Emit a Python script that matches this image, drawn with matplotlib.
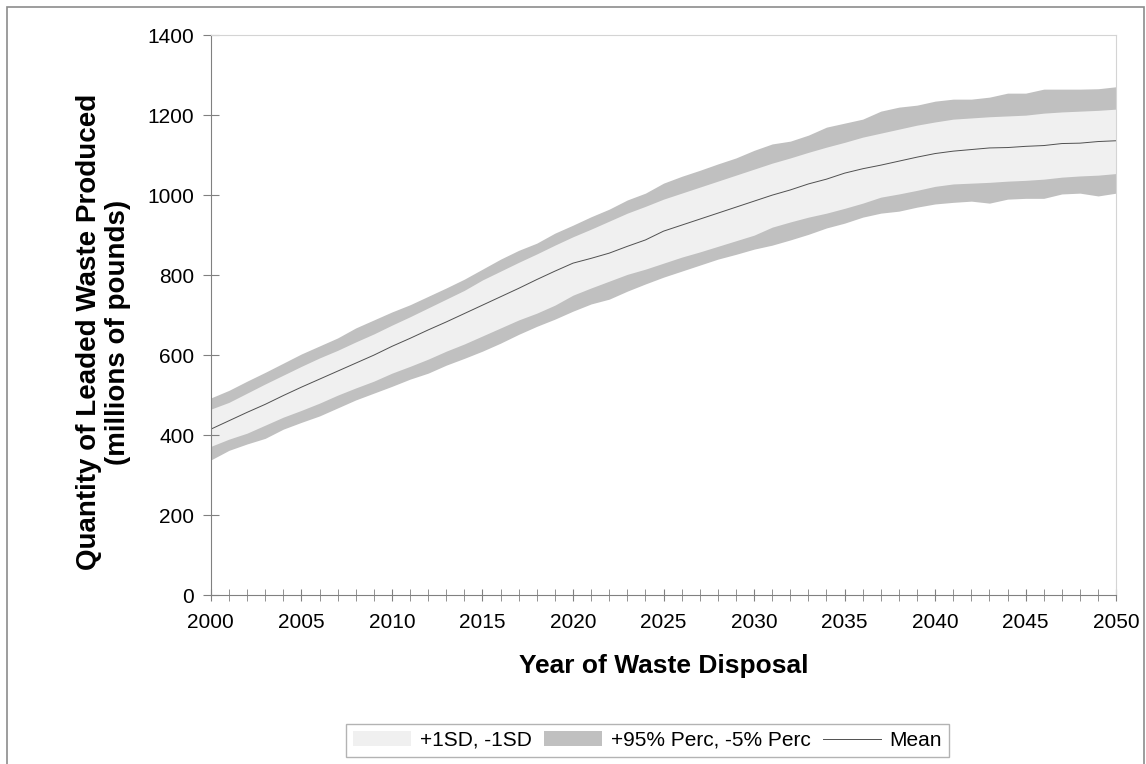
import matplotlib
matplotlib.use("Agg")
import matplotlib.pyplot as plt
from matplotlib.patches import Patch, Rectangle
from matplotlib.lines import Line2D
from matplotlib.ticker import MultipleLocator
import numpy as np

plt.rcParams['font.family'] = ['Liberation Sans', 'DejaVu Sans']

years = list(range(2000, 2051))

upper_95 = [493, 512, 535, 557, 580, 603, 623, 643, 668, 688,
            708, 726, 747, 768, 790, 815, 840, 862, 880, 905,
            925, 946, 965, 988, 1005, 1030, 1047, 1062, 1078, 1093,
            1112, 1128, 1135, 1150, 1170, 1180, 1190, 1210, 1220, 1225,
            1235, 1240, 1240, 1245, 1255, 1255, 1265, 1265, 1265, 1266,
            1271]
plus_1sd = [465, 482, 505, 528, 550, 572, 593, 612, 633, 653,
            675, 696, 718, 740, 762, 788, 810, 832, 853, 875,
            896, 915, 935, 955, 972, 990, 1005, 1020, 1035, 1050,
            1065, 1080, 1093, 1107, 1120, 1132, 1145, 1155, 1165, 1175,
            1183, 1190, 1193, 1196, 1198, 1200, 1205, 1208, 1210, 1212,
            1215]
mean = [415, 436, 457, 477, 499, 520, 540, 560, 580, 600,
        622, 642, 663, 683, 704, 725, 746, 767, 789, 810,
        830, 842, 855, 872, 888, 910, 925, 940, 955, 970,
        985, 1000, 1013, 1028, 1040, 1055, 1066, 1075, 1085, 1095,
        1104, 1110, 1114, 1118, 1119, 1122, 1124, 1129, 1130, 1134,
        1136]
minus_1sd = [372, 390, 405, 425, 445, 462, 480, 500, 518, 535,
             555, 572, 590, 610, 628, 648, 668, 688, 705, 725,
             750, 768, 785, 802, 815, 830, 845, 858, 872, 886,
             900, 920, 933, 945, 955, 967, 980, 995, 1003, 1012,
             1022, 1028, 1030, 1032, 1035, 1037, 1040, 1045, 1048, 1050,
             1054]
lower_5 = [338, 362, 378, 392, 415, 432, 448, 468, 488, 505,
           522, 540, 555, 575, 592, 610, 630, 652, 672, 690,
           710, 728, 740, 760, 778, 795, 810, 825, 840, 852,
           865, 875, 888, 902, 918, 930, 945, 955, 960, 970,
           978, 982, 985, 980, 990, 992, 992, 1003, 1005, 998,
           1005]

light = '#f0f0f0'
dark = '#c0c0c0'

fig = plt.figure(figsize=(11.46, 7.64), dpi=100)
ax = fig.add_axes([0.184, 0.221, 0.79, 0.733])

# outer frame of the figure
fig.patches.append(Rectangle((0.006, -0.05), 0.992, 1.041, transform=fig.transFigure,
                             fill=False, edgecolor='#8c8c8c', linewidth=1.2))

ax.fill_between(years, upper_95, lower_5, color=dark, linewidth=0)
ax.fill_between(years, plus_1sd, minus_1sd, color=light, linewidth=0)
ax.plot(years, mean, color='#505050', linewidth=0.7)

ax.set_xlim(2000, 2050)
ax.set_ylim(0, 1400)
ax.xaxis.set_major_locator(MultipleLocator(5))
ax.xaxis.set_minor_locator(MultipleLocator(1))
ax.yaxis.set_major_locator(MultipleLocator(200))

for side in ['left', 'bottom']:
    ax.spines[side].set_color('#808080')
for side in ['top', 'right']:
    ax.spines[side].set_color('#d4d4d4')

ax.tick_params(axis='x', which='both', direction='inout', length=9, color='#808080',
               labelsize=15, pad=8)
ax.tick_params(axis='y', which='major', direction='inout', length=12, color='#808080',
               labelsize=15, pad=6)

ax.set_xlabel('Year of Waste Disposal', fontsize=19, fontweight='bold', labelpad=16)
ax.set_ylabel('Quantity of Leaded Waste Produced\n(millions of pounds)', fontsize=20,
              fontweight='bold', linespacing=1.15)
ax.yaxis.set_label_coords(-0.088, 0.47)

handles = [Patch(facecolor=light, edgecolor='none'),
           Patch(facecolor=dark, edgecolor='none'),
           Line2D([0], [0], color='#505050', linewidth=0.7)]
labels = ['+1SD, -1SD', '+95% Perc, -5% Perc', 'Mean']
fig.legend(handles, labels, loc='center', bbox_to_anchor=(0.565, 0.031), ncol=3,
           fontsize=15, frameon=True, fancybox=False, edgecolor='#a0a0a0',
           handlelength=2.8, handletextpad=0.4, columnspacing=0.6, borderpad=0.35)

fig.savefig('out.png', dpi=100)
